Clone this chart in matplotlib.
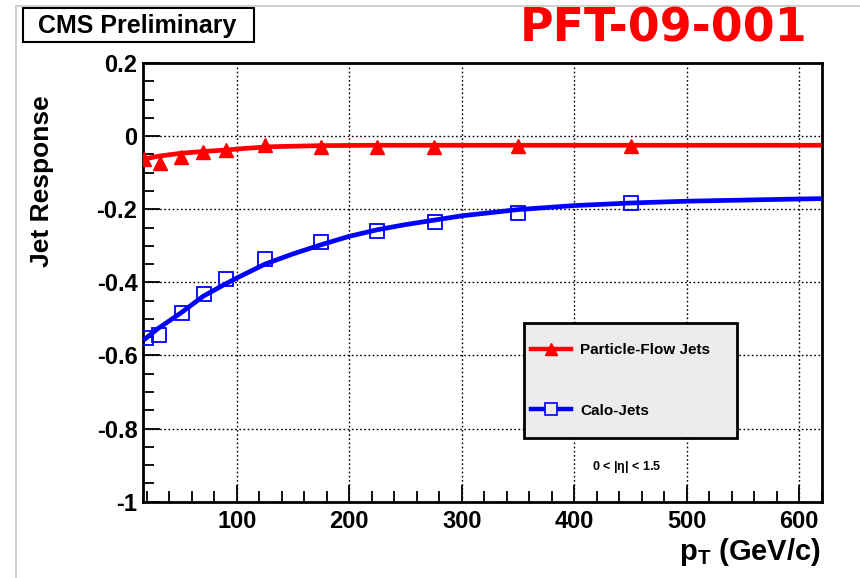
import numpy as np
import matplotlib
matplotlib.use("Agg")
import matplotlib.pyplot as plt
from matplotlib.patches import Rectangle
from matplotlib.lines import Line2D
from matplotlib.ticker import MultipleLocator

plt.rcParams['font.family'] = ['Liberation Sans', 'DejaVu Sans']
plt.rcParams['font.weight'] = 'bold'
plt.rcParams['mathtext.fontset'] = 'custom'
plt.rcParams['mathtext.bf'] = 'Liberation Sans:bold'
plt.rcParams['mathtext.rm'] = 'Liberation Sans:bold'
plt.rcParams['mathtext.it'] = 'Liberation Sans:bold'

# measured points
pf_pt = [17, 32, 50, 70, 90, 125, 175, 225, 275, 350, 450]
pf_resp = [-0.062, -0.073, -0.057, -0.044, -0.038, -0.023, -0.029, -0.029, -0.029, -0.027, -0.027]

calo_pt = [19, 31, 51, 71, 90, 125, 175, 225, 276, 350, 450]
calo_resp = [-0.553, -0.545, -0.484, -0.431, -0.390, -0.336, -0.289, -0.259, -0.235, -0.210, -0.184]

# fitted curves
pf_fit_pt = [17, 30, 50, 70, 90, 110, 130, 175, 225, 300, 400, 500, 620]
pf_fit = [-0.063, -0.055, -0.047, -0.042, -0.038, -0.033, -0.029, -0.026, -0.025,
          -0.025, -0.025, -0.025, -0.025]

calo_fit_pt = [17, 30, 50, 70, 90, 100, 125, 150, 175, 200, 225, 250, 300, 350, 400, 450, 500,
               600, 620]
calo_fit = [-0.558, -0.526, -0.484, -0.438, -0.404, -0.388, -0.350, -0.322, -0.297, -0.274,
            -0.256, -0.242, -0.218, -0.201, -0.190, -0.183, -0.178, -0.172, -0.171]

W, H = 860, 578
fig = plt.figure(figsize=(W / 100, H / 100), dpi=100)
ax = fig.add_axes([143 / W, 1 - 501.7 / H, (821.7 - 143) / W, (501.7 - 63) / H])

ax.grid(True, which='major', color='black', linestyle=(0, (1.2, 1.8)), linewidth=1.0, zorder=0)
ax.set_axisbelow(True)

ax.plot(pf_fit_pt, pf_fit, color='red', lw=3.4, zorder=3, solid_capstyle='butt',
        solid_joinstyle='round')
ax.plot(pf_pt, pf_resp, linestyle='none', marker='^', ms=10, color='red', zorder=4)
ax.plot(calo_fit_pt, calo_fit, color='blue', lw=3.4, zorder=3, solid_capstyle='butt',
        solid_joinstyle='round')
ax.plot(calo_pt, calo_resp, linestyle='none', marker='s', ms=10, mfc='none', mec='blue',
        mew=1.3, zorder=4)

ax.set_xlim(16.5, 620)
ax.set_ylim(-1, 0.2)
ax.xaxis.set_major_locator(MultipleLocator(100))
ax.xaxis.set_minor_locator(MultipleLocator(20))
ax.yaxis.set_major_locator(MultipleLocator(0.2))
ax.yaxis.set_minor_locator(MultipleLocator(0.05))
ax.set_yticks([0.2, 0, -0.2, -0.4, -0.6, -0.8, -1])
ax.set_yticklabels(['0.2', '0', '-0.2', '-0.4', '-0.6', '-0.8', '-1'])
ax.tick_params(which='both', direction='in', top=False, right=False, labelsize=17, width=1.3)
ax.tick_params(which='major', length=12)
ax.tick_params(which='minor', length=8)
ax.tick_params(axis='x', pad=6)
ax.tick_params(axis='y', pad=4)
for s in ax.spines.values():
    s.set_linewidth(2)

fig.text(42 / W, 1 - 181 / H, 'Jet Response', rotation=90, ha='center', va='center',
         fontsize=19, fontweight='bold')
fig.text(821 / W, 1 - 560 / H, r'$\mathbf{p_{T}}$ (GeV/c)', ha='right', va='baseline',
         fontsize=21, fontweight='bold')

# CMS label box
fig.patches.append(Rectangle((22.7 / W, 1 - 41.7 / H), (254 - 22.7) / W, (41.7 - 8.3) / H,
                             transform=fig.transFigure, facecolor='white', edgecolor='black',
                             lw=1.5))
fig.text(137 / W, 1 - 25.5 / H, 'CMS Preliminary', ha='center', va='center', fontsize=18,
         fontweight='bold')
fig.text(520 / W, 1 - 42 / H, 'PFT-09-001', ha='left', va='baseline', fontsize=33,
         fontweight='bold', color='red', family='DejaVu Sans')

# canvas border
fig.add_artist(Line2D([15.5 / W, 1], [1 - 6 / H, 1 - 6 / H], color='#c8c8c8', lw=1.2))
fig.add_artist(Line2D([15.5 / W, 15.5 / W], [0, 1 - 6 / H], color='#c8c8c8', lw=1.2))

# legend
fig.patches.append(Rectangle((524.3 / W, 1 - 438.3 / H), (736.7 - 524.3) / W, (438.3 - 322.7) / H,
                             transform=fig.transFigure, facecolor='#ececec', edgecolor='black',
                             lw=2, zorder=5))
h_pf = Line2D([], [], color='red', lw=3.2, marker='^', ms=9)
h_calo = Line2D([], [], color='blue', lw=3.2, marker='s', ms=8, mfc='#ececec', mec='blue', mew=1.2)
leg = fig.legend([h_pf, h_calo], ['Particle-Flow Jets', 'Calo-Jets'], loc='upper left',
                 bbox_to_anchor=(531 / W, 1 - 343 / H), frameon=False, fontsize=11,
                 handlelength=2.6, handletextpad=0.6, labelspacing=3.05, borderpad=0,
                 borderaxespad=0)
leg.set_zorder(6)
fig.text(626.7 / W, 1 - 466.7 / H, r'0 < |$\eta$| < 1.5', ha='center', va='center', fontsize=9,
         fontweight='bold', family=['Liberation Sans', 'DejaVu Sans'])

fig.savefig('out.png', dpi=100)
